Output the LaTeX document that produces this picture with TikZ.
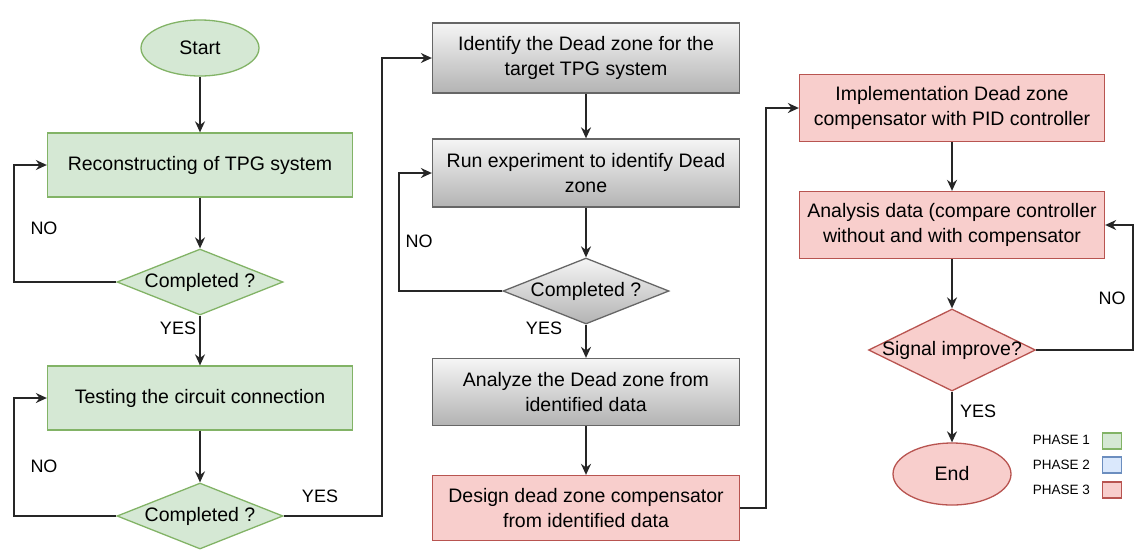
\documentclass[tikz,border=0pt]{standalone}
\usepackage{fontspec}
\setmainfont{Liberation Sans}
\usetikzlibrary{shapes.geometric,arrows.meta}

\definecolor{gfill}{HTML}{D5E8D4}
\definecolor{gline}{HTML}{82B366}
\definecolor{bfill}{HTML}{DAE8FC}
\definecolor{bline}{HTML}{6C8EBF}
\definecolor{rfill}{HTML}{F8CECC}
\definecolor{rline}{HTML}{B85450}
\definecolor{gtop}{HTML}{F5F5F5}
\definecolor{gbot}{HTML}{B3B3B3}
\definecolor{gryline}{HTML}{666666}

\tikzset{
  base/.style={font=\fontsize{19.5}{25}\selectfont, align=center, line width=1.3pt, inner sep=0pt},
  greenbox/.style={base, rectangle, fill=gfill, draw=gline, minimum width=305, minimum height=64},
  graybox/.style={base, rectangle, top color=gtop, bottom color=gbot, draw=gryline, minimum width=307, minimum height=68},
  redbox/.style={base, rectangle, fill=rfill, draw=rline, minimum width=305, minimum height=66},
  decision/.style={base, diamond, minimum width=166, minimum height=66},
  terminal/.style={base, ellipse, minimum width=118, minimum height=56},
  arr/.style={line width=1.5pt, draw=black!85, -{Stealth[length=11pt,width=10pt]}},
  link/.style={line width=1.5pt, draw=black!85},
  lbl/.style={font=\fontsize{18}{20}\selectfont, inner sep=0pt},
  legtxt/.style={font=\fontsize{13.5}{15}\selectfont, inner sep=0pt, anchor=east},
  legbox/.style={line width=1.3pt, minimum width=19, minimum height=16, inner sep=0pt}
}

\begin{document}
\begin{tikzpicture}[x=1pt, y=-1pt]
\useasboundingbox (0,0) rectangle (1134,550);

% phase 1 column
\node[terminal, fill=gfill, draw=gline] (start) at (200,48) {Start};
\node[greenbox] (rec) at (200,165) {Reconstructing of TPG system};
\node[decision, fill=gfill, draw=gline] (c1) at (200,282) {\makebox[0pt]{Completed ?}};
\node[greenbox] (test) at (200,398) {Testing the circuit connection};
\node[decision, fill=gfill, draw=gline] (c2) at (200,516) {\makebox[0pt]{Completed ?}};

% phase 2 column
\node[graybox, minimum height=70] (ident) at (586,58) {Identify the Dead zone for the\\target TPG system};
\node[graybox] (run) at (586,173) {Run experiment to identify Dead\\zone};
\node[decision, top color=gtop, bottom color=gbot, draw=gryline] (c3) at (586,291) {\makebox[0pt]{Completed ?}};
\node[graybox, minimum height=67] (ana) at (586,392) {Analyze the Dead zone from\\identified data};
\node[redbox, minimum width=307, minimum height=65] (design) at (586,508) {Design dead zone compensator\\from identified data};

% phase 3 column
\node[redbox, minimum height=67] (impl) at (952,108) {Implementation Dead zone\\compensator with PID controller};
\node[redbox, minimum height=67] (anal) at (952,225) {Analysis data (compare controller\\without and with compensator};
\node[decision, fill=rfill, draw=rline, minimum width=167, minimum height=82] (sig) at (952,350) {\makebox[0pt]{Signal improve?}};
\node[terminal, fill=rfill, draw=rline, minimum height=62] (end) at (952,474) {End};

% routing columns for the loops
\coordinate (xa) at (14,0);
\coordinate (xb) at (382,0);
\coordinate (xc) at (399,0);
\coordinate (xd) at (766,0);
\coordinate (xe) at (1133,0);

% main flow
\draw[arr] (start) -- (rec);
\draw[arr] (rec) -- (c1);
\draw[arr] (c1) -- (test);
\draw[arr] (test) -- (c2);
\draw[arr] (c2.east) -- (xb |- c2.east) -- (xb |- ident.west) -- (ident.west);
\draw[arr] (ident) -- (run);
\draw[arr] (run) -- (c3);
\draw[arr] (c3) -- (ana);
\draw[arr] (ana) -- (design);
\draw[arr] (design.east) -- (xd |- design.east) -- (xd |- impl.west) -- (impl.west);
\draw[arr] (impl) -- (anal);
\draw[arr] (anal) -- (sig);
\draw[arr] (sig) -- (end);

% retry loops
\draw[arr] (c1.west) -- (xa |- c1.west) -- (xa |- rec.west) -- (rec.west);
\draw[arr] (c2.west) -- (xa |- c2.west) -- (xa |- test.west) -- (test.west);
\draw[arr] (c3.west) -- (xc |- c3.west) -- (xc |- run.west) -- (run.west);
\draw[arr] (sig.east) -- (xe |- sig.east) -- (xe |- anal.east) -- (anal.east);

% branch labels
\node[lbl] (no1) at (44,228) {NO};
\node[lbl] (yes1) at (178,328) {YES};
\node[lbl] (no2) at (44,466) {NO};
\node[lbl] (yes2) at (320,496) {YES};
\node[lbl] (no3) at (419,241) {NO};
\node[lbl] (yes3) at (544,328) {YES};
\node[lbl] (no4) at (1112,298) {NO};
\node[lbl] (yes4) at (978,411) {YES};

% legend
\node[legtxt] (p1) at (1090,440) {PHASE 1};
\node[legtxt] (p2) at (1090,465) {PHASE 2};
\node[legtxt] (p3) at (1090,490) {PHASE 3};
\node[legbox, fill=gfill, draw=gline] (k1) at (1112,441) {};
\node[legbox, fill=bfill, draw=bline] (k2) at (1112,465) {};
\node[legbox, fill=rfill, draw=rline] (k3) at (1112,490) {};
\end{tikzpicture}
\end{document}
